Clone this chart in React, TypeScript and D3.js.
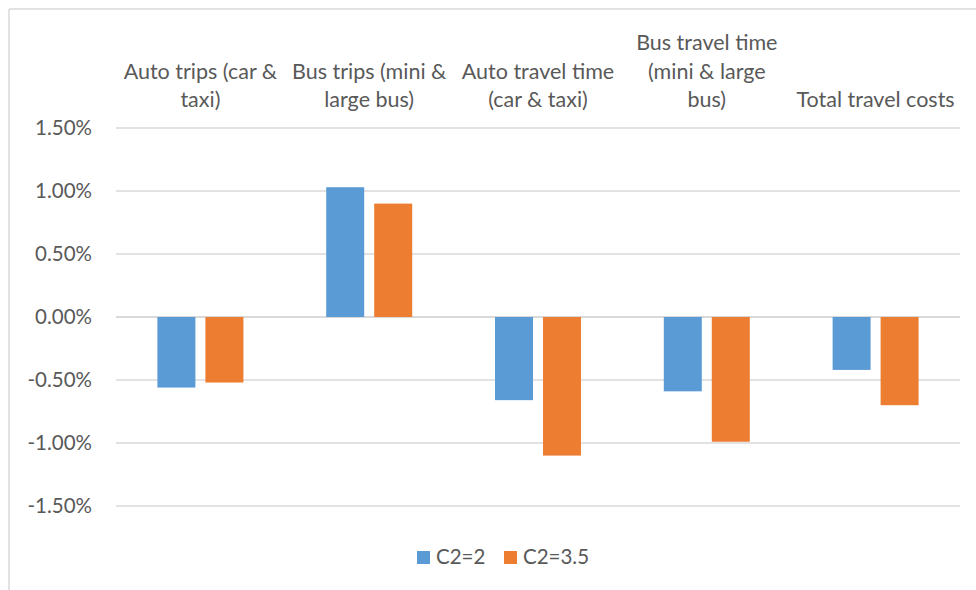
import React from "react";
import * as d3 from "d3";

const categories = [
  "Auto trips (car &\ntaxi)",
  "Bus trips (mini &\nlarge bus)",
  "Auto travel time\n(car & taxi)",
  "Bus travel time\n(mini & large\nbus)",
  "Total travel costs",
];
const seriesNames = ["C2=2", "C2=3.5"];
const seriesC2_2 = [-0.56, 1.03, -0.66, -0.59, -0.42];
const seriesC2_35 = [-0.52, 0.9, -1.1, -0.99, -0.7];
const yTicks = [-1.5, -1.0, -0.5, 0, 0.5, 1.0, 1.5];

const colors = ["#5b9bd5", "#ed7d31"];
const W = 976;
const H = 590;
const FONT = "Lato, 'Open Sans', sans-serif";
const TEXT = "#595959";

export default function App() {
  const plotLeft = 116;
  const plotRight = 960;
  const x = d3.scaleBand<number>().domain(d3.range(categories.length)).range([plotLeft, plotRight]).padding(0);
  const y = d3.scaleLinear().domain([-1.5, 1.5]).range([506, 128]);
  const inner = d3.scaleBand<number>().domain([0, 1]).range([-43, 43]).paddingInner(2 - 86 / 48);
  const series = [seriesC2_2, seriesC2_35];
  const fmt = (v: number) => v.toFixed(2) + "%";

  return (
    <svg width={W} height={H} style={{ position: "absolute", left: 0, top: 0, background: "#fff" }}>
      <rect x={0} y={0} width={W} height={H} fill="#fff" />
      {/* chart border */}
      <line x1={9} y1={9} x2={W} y2={9} stroke="#d9d9d9" strokeWidth={1.5} />
      <line x1={9} y1={9} x2={9} y2={H} stroke="#d9d9d9" strokeWidth={1.5} />
      {/* gridlines */}
      {yTicks.map((t) => (
        <line key={t} x1={plotLeft} x2={plotRight} y1={y(t)} y2={y(t)} stroke="#d9d9d9" strokeWidth={t === 0 ? 2 : 1.5} />
      ))}
      {/* y labels */}
      {yTicks.map((t) => (
        <text key={"l" + t} x={92} y={y(t)} dy="0.36em" textAnchor="end" fontFamily={FONT} fontSize={20.5} fill={TEXT}>
          {fmt(t)}
        </text>
      ))}
      {/* bars */}
      {series.map((vals, si) =>
        vals.map((v, ci) => {
          const cx = x(ci)! + x.bandwidth() / 2;
          const bx = cx + inner(si)!;
          const y0 = y(0);
          const y1 = y(v);
          return (
            <rect
              key={si + "-" + ci}
              x={bx}
              y={Math.min(y0, y1)}
              width={inner.bandwidth()}
              height={Math.abs(y1 - y0)}
              fill={colors[si]}
            />
          );
        })
      )}
      {/* category labels */}
      {categories.map((c, ci) => {
        const lines = c.split("\n");
        const cx = x(ci)! + x.bandwidth() / 2;
        return (
          <text key={"c" + ci} textAnchor="middle" fontFamily={FONT} fontSize={21.5} fill={TEXT}>
            {lines.map((ln, li) => (
              <tspan key={li} x={cx} y={107 - (lines.length - 1 - li) * 28.5}>
                {ln}
              </tspan>
            ))}
          </text>
        );
      })}
      {/* legend */}
      {seriesNames.map((n, i) => {
        const lx = [417, 504][i];
        return (
          <g key={"lg" + i}>
            <rect x={lx} y={551} width={13} height={13} fill={colors[i]} />
            <text x={lx + 19} y={564} fontFamily={FONT} fontSize={20.5} fill={TEXT}>
              {n}
            </text>
          </g>
        );
      })}
    </svg>
  );
}
